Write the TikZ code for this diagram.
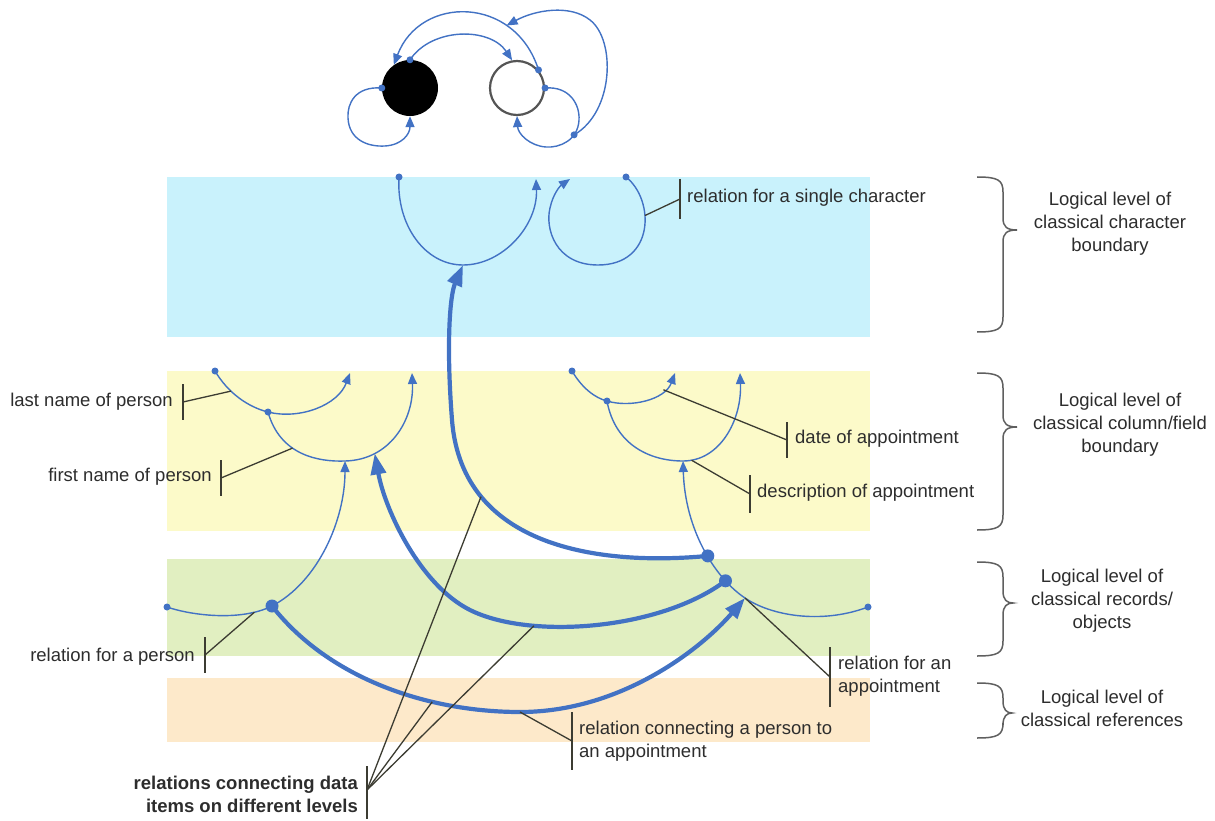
\documentclass[tikz,border=0pt]{standalone}
\usepackage{fontspec}
\setmainfont{Liberation Sans}
\usetikzlibrary{arrows.meta}

\definecolor{relblue}{RGB}{66,114,196}
\definecolor{charband}{RGB}{201,242,252}
\definecolor{colband}{RGB}{252,250,201}
\definecolor{recband}{RGB}{225,239,193}
\definecolor{refband}{RGB}{253,233,202}
\definecolor{leader}{RGB}{60,60,50}
\definecolor{txt}{RGB}{45,45,45}
\definecolor{bracegray}{RGB}{95,95,95}

\newcommand\lblfont{\fontsize{18.5}{23}\selectfont}
% curly brace on the right: top y, tip y, bottom y, tip x
\newcommand\lvlbrace[4]{%
  \draw[bracestyle] (977,#1) .. controls (998,#1) and (1003,#1+3) .. (1003,#1+15)
    -- (1003,#2-12) .. controls (1003,#2-3) and (1007,#2) .. (#4,#2)
    .. controls (1007,#2) and (1003,#2+3) .. (1003,#2+12)
    -- (1003,#3-15) .. controls (1003,#3-3) and (998,#3) .. (977,#3);}
% short vertical bar that a leader line ends on: centre, half length
\newcommand\tagbar[2]{\draw[leaderline] (#1) ++(0,-#2) -- ++(0,2*#2);}

\begin{document}
\begin{tikzpicture}[x=1pt,y=-1pt,
  thinrel/.style={draw=relblue, line width=1.4pt},
  thickrel/.style={draw=relblue, line width=4.2pt},
  thinhead/.style={-{Triangle[length=11pt,width=9pt]}},
  thickhead/.style={-{Triangle[length=21pt,width=15pt]}},
  leaderline/.style={draw=leader, line width=1.3pt},
  bracestyle/.style={draw=bracegray, line width=1.5pt},
  dotsmall/.style={circle, fill=relblue, inner sep=0pt, minimum size=7pt},
  dotbig/.style={circle, fill=relblue, inner sep=0pt, minimum size=13pt},
  blackball/.style={circle, fill=black, inner sep=0pt, minimum size=56pt},
  whiteball/.style={circle, draw={rgb,255:red,85;green,85;blue,85}, line width=2.2pt, fill=white, inner sep=0pt, minimum size=54pt},
  lbl/.style={text=txt, inner sep=0pt, font=\lblfont}
]
\useasboundingbox (0,0) rectangle (1215,821);
\fill[white] (0,0) rectangle (1215,821);

% level bands
\fill[charband] (167,177) rectangle (870,337);
\fill[colband]  (167,371) rectangle (870,531);
\fill[recband]  (167,559) rectangle (870,656);
\fill[refband]  (167,678) rectangle (870,742);

% level braces
\lvlbrace{177}{230}{332}{1017}
\lvlbrace{373}{427}{530}{1017}
\lvlbrace{562}{603}{656}{1013}
\lvlbrace{683}{713}{738}{1012}

% two characters
\node[blackball] (bk) at (410,88) {};
\node[whiteball] (wh) at (517,88) {};

\draw[thinrel,thinhead] (bk.west) .. controls (355,86) and (347,104) .. (348,118)
  .. controls (349,140) and (368,147) .. (385,146)
  .. controls (402,145) and (410,134) .. (bk.south);
\draw[thinrel,thinhead] (bk.north) .. controls (432,27) and (490,27) .. (wh.100);
\draw[thinrel,thinhead] (wh.40) .. controls (515,-5) and (420,-5) .. (bk.125)
  coordinate[pos=0.27] (c3hit);
\draw[thinrel,thinhead] (wh.east) .. controls (570,86) and (580,105) .. (579,120)
  .. controls (578,140) and (560,148) .. (546,147) coordinate[pos=0.3] (c5hit)
  .. controls (530,146) and (518,134) .. (wh.south);
\draw[thinrel,thinhead] (c5hit) .. controls (614,112) and (616,40) .. (590,20)
  .. controls (570,4) and (535,10) .. (c3hit);

% character level
\coordinate (aS) at (399,177);
\coordinate (bS) at (626,177);
\draw[thinrel,thinhead] (aS) .. controls (396,225) and (425,265) .. (463,265) coordinate (aBot)
  .. controls (503,265) and (538,225) .. (536,179);
\draw[thinrel,thinhead] (bS) .. controls (655,200) and (655,265) .. (598,265) coordinate[pos=0.38] (bLbl)
  .. controls (555,265) and (545,228) .. (550,208)
  .. controls (553,194) and (560,186) .. (570,179);

% column/field level
\coordinate (l1S) at (215,371);
\coordinate (l2S) at (268,412);
\coordinate (r1S) at (572,371);
\coordinate (r2S) at (607,401);
\draw[thinrel,thinhead] (l1S) .. controls (228,393) and (248,407) .. (l2S) coordinate[pos=0.35] (l1Lbl)
  .. controls (300,420) and (338,405) .. (350,373);
\draw[thinrel,thinhead] (l2S) .. controls (280,455) and (318,462) .. (345,461) coordinate (l2Bot) coordinate[pos=0.4] (l2Lbl)
  .. controls (390,460) and (414,420) .. (412,373) coordinate[pos=0.25] (l2Hit);
\draw[thinrel,thinhead] (r1S) .. controls (582,388) and (595,398) .. (r2S)
  .. controls (630,408) and (665,400) .. (675,373) coordinate[pos=0.75] (r1Lbl);
\draw[thinrel,thinhead] (r2S) .. controls (615,445) and (650,461) .. (683,461) coordinate (r2Bot)
  .. controls (720,461) and (742,420) .. (740,373) coordinate[pos=0.08] (r2Lbl);

% record level
\coordinate (pS) at (167,607);
\coordinate (pers) at (272,606);
\coordinate (qS) at (868,607);
\draw[thinrel,thinhead] (pS) .. controls (190,615) and (240,622) .. (pers) coordinate[pos=0.83] (pLbl)
  .. controls (318,582) and (345,520) .. (l2Bot);
\draw[thinrel,thinhead] (qS) .. controls (820,625) and (770,615) .. (745,598) coordinate (qMid)
  .. controls (715,578) and (685,530) .. (r2Bot) coordinate[pos=0.22] (appB) coordinate[pos=0.44] (appA);

% relations between levels
\draw[thickrel,thickhead] (appA) .. controls (600,566) and (462,548) .. (452,420) coordinate[pos=0.75] (t1Hit)
  .. controls (446,343) and (450,295) .. (aBot);
\draw[thickrel,thickhead] (appB) .. controls (660,630) and (530,640) .. (470,610) coordinate[pos=0.72] (t2Hit)
  .. controls (420,585) and (385,510) .. (l2Hit);
\draw[thickrel,thickhead] (pers) .. controls (330,680) and (430,712) .. (520,712) coordinate (t3Bot) coordinate[pos=0.68] (t3Hit)
  .. controls (620,712) and (700,650) .. (qMid);

% relation dots
\foreach \d in {bk.west, bk.north, wh.40, wh.east, c5hit, aS, bS, l1S, l2S, r1S, r2S, pS, qS}
  \node[dotsmall] at (\d) {};
\node[dotbig] (dotPers) at (pers) {};
\node[dotbig] (dotAppA) at (appA) {};
\node[dotbig] (dotAppB) at (appB) {};

% leader lines and bars
\coordinate (barB) at (680,199);
\coordinate (barLast) at (183,402);
\coordinate (barFirst) at (221,478);
\coordinate (barDate) at (787,440);
\coordinate (barDesc) at (750,494);
\coordinate (barPers) at (205,655);
\coordinate (barAppt) at (830,677);
\coordinate (barLink) at (572,741);
\coordinate (barRel) at (367,790);

\draw[leaderline] (bLbl) -- (barB);      \tagbar{barB}{20}
\draw[leaderline] (l1Lbl) -- (barLast);  \tagbar{barLast}{18}
\draw[leaderline] (l2Lbl) -- (barFirst); \tagbar{barFirst}{18}
\draw[leaderline] (r1Lbl) -- (barDate);  \tagbar{barDate}{18}
\draw[leaderline] (r2Lbl) -- (barDesc);  \tagbar{barDesc}{19}
\draw[leaderline] (pLbl) -- (barPers);   \tagbar{barPers}{18}
\draw[leaderline] (qMid) -- (barAppt);   \tagbar{barAppt}{30}
\draw[leaderline] (t3Bot) -- (barLink);  \tagbar{barLink}{29}
\draw[leaderline] (barRel) -- (t1Hit);
\draw[leaderline] (barRel) -- (t3Hit);
\draw[leaderline] (barRel) -- (t2Hit);
\draw[leaderline] (barRel) ++(0,-24) -- ++(0,53);

% labels
\node[lbl, anchor=west] (tSingle) at (687,198) {relation for a single character};
\node[lbl, anchor=east] (tLast) at (173,402) {last name of person};
\node[lbl, anchor=east] (tFirst) at (212,477) {first name of person};
\node[lbl, anchor=west] (tDate) at (795,439) {date of appointment};
\node[lbl, anchor=west] (tDesc) at (757,493) {description of appointment};
\node[lbl, anchor=east] (tPers) at (195,657) {relation for a person};
\node[lbl, anchor=west, align=left] (tAppt) at (838,676) {relation for an\\appointment};
\node[lbl, anchor=west, align=left] (tLink) at (579,741) {relation connecting a person to\\an appointment};
\node[lbl, anchor=east, align=right, font=\lblfont\bfseries] (tRel) at (358,794) {relations connecting data\\items on different levels};

\node[lbl, align=center] (lvChar) at (1110,224) {Logical level of\\classical character\\boundary};
\node[lbl, align=center] (lvCol) at (1120,425) {Logical level of\\classical column/field\\boundary};
\node[lbl, align=center] (lvRec) at (1102,601) {Logical level of\\classical records/\\objects};
\node[lbl, align=center] (lvRef) at (1102,708) {Logical level of\\classical references};
\end{tikzpicture}
\end{document}
